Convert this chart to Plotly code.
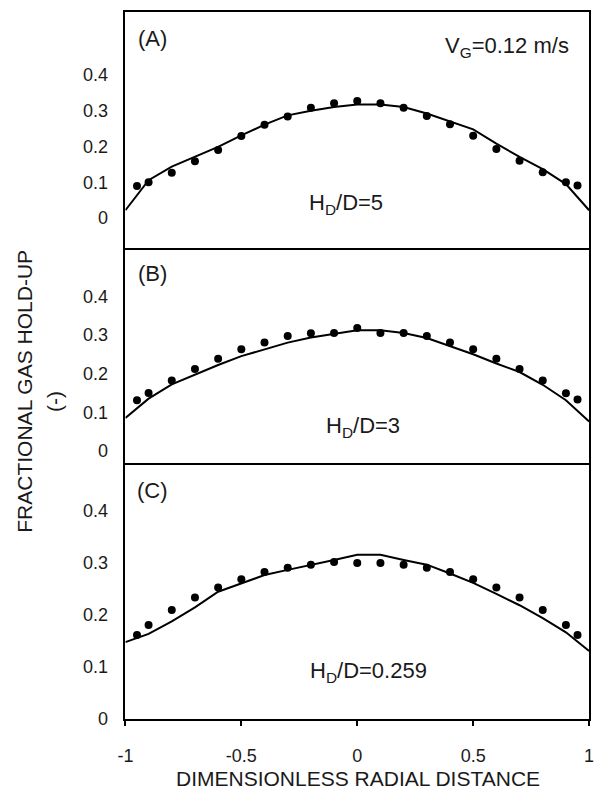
import plotly.graph_objects as go
from plotly.subplots import make_subplots

# ---------------- data ----------------
x_points = [-0.95, -0.9, -0.8, -0.7, -0.6, -0.5, -0.4, -0.3, -0.2, -0.1, 0.0,
            0.1, 0.2, 0.3, 0.4, 0.5, 0.6, 0.7, 0.8, 0.9, 0.95]
x_model = [-1.0, -0.9, -0.8, -0.7, -0.6, -0.5, -0.4, -0.3, -0.2, -0.1, 0.0,
           0.1, 0.2, 0.3, 0.4, 0.5, 0.6, 0.7, 0.8, 0.9, 1.0]

exp_A = [0.090, 0.100, 0.127, 0.159, 0.190, 0.229, 0.261, 0.284, 0.308, 0.321, 0.327,
         0.321, 0.308, 0.285, 0.262, 0.230, 0.193, 0.160, 0.128, 0.100, 0.091]
sim_A = [0.022, 0.106, 0.144, 0.171, 0.199, 0.231, 0.261, 0.287, 0.300, 0.310, 0.317,
         0.317, 0.310, 0.292, 0.270, 0.248, 0.208, 0.171, 0.137, 0.095, 0.022]

exp_B = [0.131, 0.150, 0.182, 0.212, 0.238, 0.263, 0.280, 0.297, 0.304, 0.305, 0.318,
         0.305, 0.305, 0.297, 0.280, 0.263, 0.238, 0.212, 0.182, 0.149, 0.133]
sim_B = [0.085, 0.135, 0.172, 0.198, 0.222, 0.245, 0.262, 0.280, 0.293, 0.303, 0.312,
         0.312, 0.305, 0.292, 0.272, 0.250, 0.226, 0.204, 0.171, 0.131, 0.076]

exp_C = [0.161, 0.180, 0.209, 0.233, 0.252, 0.268, 0.282, 0.290, 0.296, 0.301, 0.299,
         0.299, 0.296, 0.290, 0.282, 0.268, 0.252, 0.233, 0.209, 0.180, 0.161]
sim_C = [0.147, 0.163, 0.187, 0.214, 0.244, 0.260, 0.276, 0.286, 0.295, 0.305, 0.315,
         0.315, 0.305, 0.296, 0.279, 0.261, 0.240, 0.218, 0.193, 0.166, 0.130]

y_tick_vals = [0, 0.1, 0.2, 0.3, 0.4]
y_tick_text = ["0", "0.1", "0.2", "0.3", "0.4"]
x_tick_vals = [-1, -0.5, 0, 0.5, 1]
x_tick_text = ["-1", "-0.5", "0", "0.5", "1"]

panel_labels = ["(A)", "(B)", "(C)"]
ratio_labels = ["H<sub>D</sub>/D=5", "H<sub>D</sub>/D=3", "H<sub>D</sub>/D=0.259"]
velocity_label = "V<sub>G</sub>=0.12 m/s"
x_title = "DIMENSIONLESS RADIAL DISTANCE"
y_title = "FRACTIONAL GAS HOLD-UP"
y_unit = "(-)"

# ---------------- layout helpers ----------------
W, H = 599, 800
FONT = "Arial"
TXT = "#1a1a1a"


def px(x):
    return x / W


def py(y):
    return 1 - y / H


fig = make_subplots(rows=3, cols=1, shared_xaxes=True, vertical_spacing=0)

series = [(exp_A, sim_A), (exp_B, sim_B), (exp_C, sim_C)]
for i, (e, s) in enumerate(series, start=1):
    fig.add_trace(go.Scatter(x=x_model, y=s, mode="lines",
                             line=dict(color="black", width=2),
                             showlegend=False), row=i, col=1)
    fig.add_trace(go.Scatter(x=x_points, y=e, mode="markers",
                             marker=dict(color="black", size=8, symbol="circle"),
                             showlegend=False), row=i, col=1)

x_dom = [px(120), px(594)]
y_doms = [[py(251), py(12)], [py(470.7), py(251)], [py(727.7), py(470.7)]]
y_ranges = [[-0.083, 0.576], [-0.036, 0.525], [0, 0.488]]

for i in range(3):
    xa = "xaxis" if i == 0 else f"xaxis{i+1}"
    ya = "yaxis" if i == 0 else f"yaxis{i+1}"
    last = (i == 2)
    fig.layout[xa].update(
        domain=x_dom, range=[-1, 1], showline=(i != 1), mirror=True,
        linecolor="black", linewidth=1.5, showgrid=False, zeroline=False,
        tickvals=x_tick_vals, ticktext=x_tick_text,
        ticks="outside" if last else "", ticklen=6, tickwidth=1.5, tickcolor="black",
        showticklabels=last, ticklabelstandoff=14, ticklabeloverflow="allow",
        tickfont=dict(family=FONT, size=18, color=TXT),
    )
    fig.layout[ya].update(
        domain=y_doms[i], range=y_ranges[i], showline=True, mirror=True,
        linecolor="black", linewidth=1.5, showgrid=False, zeroline=False,
        tickvals=y_tick_vals, ticktext=y_tick_text, ticks="",
        ticklabelstandoff=12,
        tickfont=dict(family=FONT, size=18, color=TXT),
    )

annotations = []


def ann(text, x, y, size=22, angle=0):
    annotations.append(dict(text=text, x=px(x), y=py(y), xref="paper", yref="paper",
                            showarrow=False, textangle=angle,
                            font=dict(family=FONT, size=size, color=TXT),
                            xanchor="center", yanchor="middle"))


ann(panel_labels[0], 148, 39)
ann(panel_labels[1], 148, 277)
ann(panel_labels[2], 148, 497)
ann(velocity_label, 510, 48)
ann(ratio_labels[0], 345, 207)
ann(ratio_labels[1], 363, 432)
ann(ratio_labels[2], 368, 681)
ann(x_title, 358, 788, size=21)
ann(y_title, 16, 396, size=21, angle=-90)
ann(y_unit, 48, 406, size=21, angle=-90)

fig.update_layout(
    width=W, height=H, margin=dict(l=0, r=0, t=0, b=0),
    paper_bgcolor="white", plot_bgcolor="white",
    annotations=annotations, showlegend=False,
)

fig.write_html("out.html")
